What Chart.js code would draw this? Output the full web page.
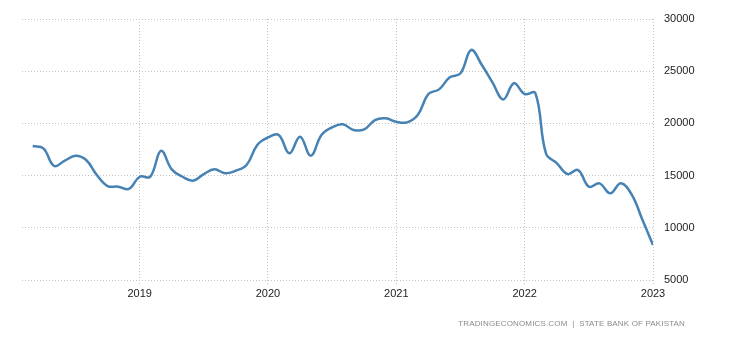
<!DOCTYPE html>
<html>
<head>
<meta charset="utf-8">
<title>Pakistan Foreign Exchange Reserves</title>
<script src="https://cdn.jsdelivr.net/npm/chart.js@4"></script>
<style>
  html, body { margin: 0; padding: 0; background: #fff; }
  #wrap { position: relative; width: 730px; height: 340px; }
  #source {
    position: absolute; right: 45px; top: 319px;
    font: 8px "Liberation Sans", Arial, sans-serif;
    color: #8a8a8a; letter-spacing: 0.15px; white-space: nowrap;
  }
</style>
</head>
<body>
<div id="wrap">
  <canvas id="chart" width="730" height="340"></canvas>
  <div id="source">TRADINGECONOMICS.COM&nbsp; | &nbsp;STATE BANK OF PAKISTAN</div>
</div>
<script>
// Month index counted from January 2018 (0 = Jan 2018), one entry per month
const months = [
  2, 3, 4, 5, 6, 7, 8, 9, 10, 11,
  12, 13, 14, 15, 16, 17, 18, 19, 20, 21, 22, 23,
  24, 25, 26, 27, 28, 29, 30, 31, 32, 33, 34, 35,
  36, 37, 38, 39, 40, 41, 42, 43, 44, 45, 46, 47,
  48, 49, 50, 51, 52, 53, 54, 55, 56, 57, 58, 59,
  60
];

// Foreign exchange reserves, USD million
const reserves = [
  17830, 17610, 15920, 16430, 16900, 16490, 15060, 14000, 13940, 13720,
  14890, 14900, 17380, 15600, 14890, 14510, 15150, 15600, 15220, 15470, 16010, 17930,
  18650, 18900, 17130, 18730, 16900, 18890, 19620, 19910, 19370, 19430, 20320, 20490,
  20150, 20100, 20800, 22810, 23260, 24410, 24800, 27030, 25590, 23900, 22300, 23840,
  22810, 22900, 17100, 16200, 15150, 15530, 13940, 14260, 13300, 14260, 13200, 10800,
  8350
];

// Year ticks on the time axis (month index of each January)
const yearTicks = [12, 24, 36, 48, 60];
const yearLabels = ['2019', '2020', '2021', '2022', '2023'];

// Value axis ticks
const valueTicks = [5000, 10000, 15000, 20000, 25000, 30000];

const points = months.map((m, i) => ({ x: m, y: reserves[i] }));

const gridColor = '#c4c4c4';
const tickFont = { family: '"Liberation Sans", Arial, sans-serif', size: 11 };

new Chart(document.getElementById('chart'), {
  type: 'line',
  data: {
    datasets: [{
      data: points,
      borderColor: '#4682b4',
      borderWidth: 2.5,
      pointRadius: 0,
      tension: 0.4,
      fill: false
    }]
  },
  options: {
    responsive: false,
    animation: false,
    devicePixelRatio: 1,
    layout: { padding: { left: 22, top: 19, right: 0, bottom: 0 } },
    plugins: { legend: { display: false }, tooltip: { enabled: false } },
    scales: {
      x: {
        type: 'linear',
        min: 1,
        max: 60,
        afterBuildTicks: s => { s.ticks = yearTicks.map(v => ({ value: v })); },
        afterFit: s => { s.height = 60; },
        border: { display: false, dash: [1, 2] },
        grid: {
          color: gridColor,
          lineWidth: 1,
          drawTicks: true,
          tickLength: 4,
          tickColor: gridColor,
          tickBorderDash: [1, 2]
        },
        ticks: {
          padding: 3,
          color: '#222',
          font: tickFont,
          maxRotation: 0,
          callback: v => yearLabels[yearTicks.indexOf(v)]
        }
      },
      y: {
        position: 'right',
        min: 5000,
        max: 30000,
        afterBuildTicks: s => { s.ticks = valueTicks.map(v => ({ value: v })); },
        afterFit: s => { s.width = 77; },
        border: { display: false, dash: [1, 2] },
        grid: {
          color: gridColor,
          lineWidth: 1,
          drawTicks: false
        },
        ticks: {
          padding: 11,
          color: '#222',
          font: tickFont,
          callback: v => String(v)
        }
      }
    }
  }
});
</script>
</body>
</html>
